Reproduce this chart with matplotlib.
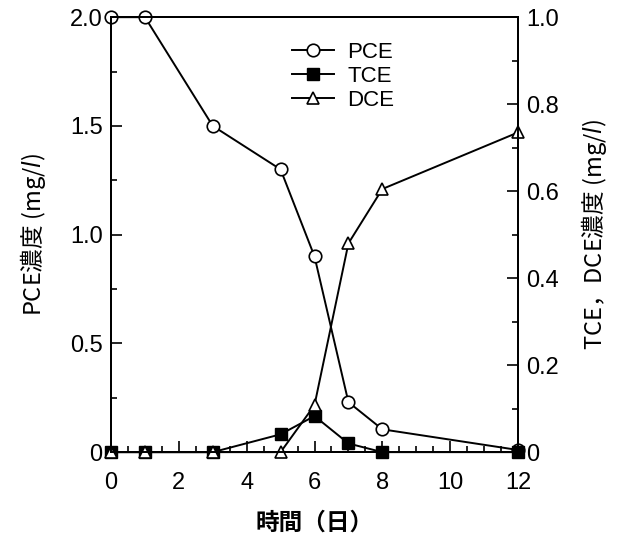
import matplotlib
matplotlib.use("Agg")
import matplotlib.pyplot as plt
from matplotlib.ticker import MultipleLocator, FixedLocator

plt.rcParams['font.family'] = ['Liberation Sans', 'Noto Sans CJK JP', 'DejaVu Sans']
plt.rcParams['mathtext.fontset'] = 'dejavusans'

# elapsed days
days = [0, 1, 3, 5, 6, 7, 8, 12]
# PCE concentration (mg/l), left axis
pce = [2.0, 2.0, 1.5, 1.3, 0.9, 0.23, 0.105, 0.01]
# TCE / DCE concentration (mg/l), right axis
tce = [0.0, 0.0, 0.0, 0.041, 0.083, 0.02, 0.0, 0.0]
dce = [0.0, 0.0, 0.0, 0.0, 0.108, 0.48, 0.605, 0.735]

left_ticks = [0, 0.5, 1.0, 1.5, 2.0]
left_labels = ['0', '0.5', '1.0', '1.5', '2.0']
right_ticks = [0, 0.2, 0.4, 0.6, 0.8, 1.0]
right_labels = ['0', '0.2', '0.4', '0.6', '0.8', '1.0']

fig = plt.figure(figsize=(6.29, 5.37), dpi=100)
ax = fig.add_axes([0.1765, 0.158, 0.647, 0.81])
ax2 = ax.twinx()

lw = 1.4
ms = 9
l1, = ax.plot(days, pce, '-o', color='black', lw=lw, ms=ms, mfc='white', mec='black',
              mew=1.2, clip_on=False, label='PCE')
l2, = ax2.plot(days, tce, '-s', color='black', lw=lw, ms=ms, mfc='black', mec='black',
               clip_on=False, label='TCE')
l3, = ax2.plot(days, dce, '-^', color='black', lw=lw, ms=ms, mfc='white', mec='black',
               mew=1.2, clip_on=False, label='DCE')

ax.set_xlim(0, 12)
ax.set_ylim(0, 2.0)
ax2.set_ylim(0, 1.0)

ax.set_xticks(range(0, 13, 2))
ax.xaxis.set_minor_locator(MultipleLocator(0.5))
ax.yaxis.set_major_locator(FixedLocator(left_ticks))
ax.set_yticklabels(left_labels)
ax.yaxis.set_minor_locator(MultipleLocator(0.25))
ax2.yaxis.set_major_locator(FixedLocator(right_ticks))
ax2.set_yticklabels(right_labels)
ax2.yaxis.set_minor_locator(MultipleLocator(0.1))

for a in (ax, ax2):
    a.tick_params(which='both', direction='in', labelsize=17, width=1.2)
    a.tick_params(which='major', length=8)
    a.tick_params(which='minor', length=4)
    for s in a.spines.values():
        s.set_linewidth(1.4)
ax.tick_params(axis='x', pad=14)
ax.tick_params(axis='y', pad=6)
ax2.tick_params(axis='y', pad=6)

cjk = 'Noto Sans CJK JP'
ax.set_xlabel('時間（日）', fontsize=17, fontweight='bold', family=cjk, labelpad=12)
ax.set_ylabel('PCE濃度 (mg/$l$)', fontsize=17, family=cjk, labelpad=16)
ax2.set_ylabel('TCE，DCE濃度 (mg/$l$)', fontsize=17, family=cjk, labelpad=14, rotation=90)

ax.legend(handles=[l1, l2, l3], loc='upper center', bbox_to_anchor=(0.57, 0.99),
          frameon=False, fontsize=16, handlelength=1.9, handletextpad=0.6,
          labelspacing=0.15)

fig.savefig('out.png', dpi=100)
